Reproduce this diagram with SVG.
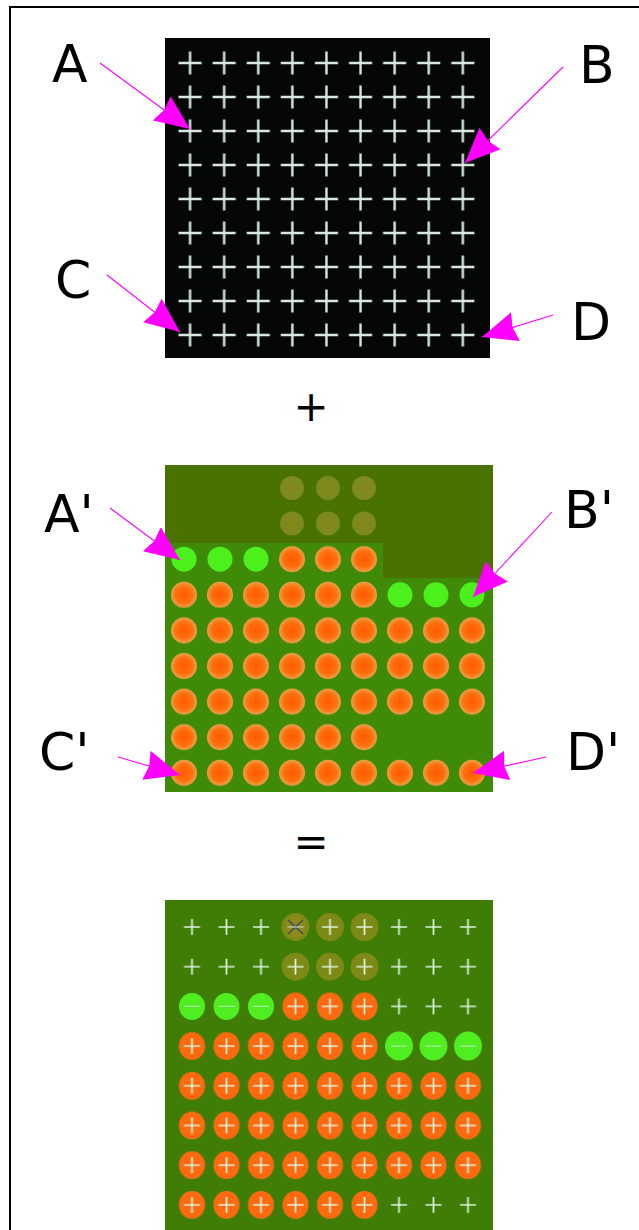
<svg xmlns="http://www.w3.org/2000/svg" xmlns:xlink="http://www.w3.org/1999/xlink" width="639" height="1230" viewBox="0 0 639 1230">
<style>
.lbl{font-family:"DejaVu Sans","Liberation Sans",sans-serif;font-size:52px;fill:#000}
.op{font-family:"DejaVu Sans","Liberation Sans",sans-serif;font-size:42px;fill:#000;text-anchor:middle}
.arr{stroke:#ff00ff;stroke-width:1.1;fill:none;marker-end:url(#head)}
.x1{stroke:#d6e8e0;stroke-width:2.4;fill:none}
.x3{stroke:#dcf4dc;stroke-width:1.7;fill:none}
</style>
<defs>
<marker id="head" viewBox="0 0 35 30" refX="35" refY="15" markerWidth="35" markerHeight="30" markerUnits="userSpaceOnUse" orient="auto">
<path d="M0,0 L35,15 L0,30 L3,15 Z" fill="#ff00ff"/>
</marker>
<radialGradient id="or">
<stop offset="0" stop-color="#ff5a00"/>
<stop offset="0.65" stop-color="#ff700e"/>
<stop offset="1" stop-color="#eaa44a"/>
</radialGradient>
<radialGradient id="ol">
<stop offset="0" stop-color="#86881a"/>
<stop offset="1" stop-color="#7a8a20"/>
</radialGradient>
<pattern id="p1" x="173" y="46" width="34.1" height="34" patternUnits="userSpaceOnUse">
<path class="x1" d="M5.5,17H28.6M17.05,5.5V28.5"/>
</pattern>
<pattern id="p2" x="166" y="470.2" width="36" height="35.6" patternUnits="userSpaceOnUse">
<circle cx="18" cy="17.8" r="13" fill="url(#or)"/>
</pattern>
<pattern id="p3o" x="174.75" y="907.15" width="34.5" height="39.7" patternUnits="userSpaceOnUse">
<ellipse cx="17.25" cy="19.85" rx="13" ry="14" fill="#ff6a10"/>
</pattern>
<pattern id="p3x" x="174.75" y="907.15" width="34.5" height="39.7" patternUnits="userSpaceOnUse">
<path class="x3" d="M9.25,19.85H25.25M17.25,11.85V27.85"/>
</pattern>
</defs>
<rect width="639" height="1230" fill="#fff"/>
<rect x="10" y="7" width="660" height="1260" fill="none" stroke="#000" stroke-width="2"/>

<g id="panel-top">
<rect x="165" y="38" width="325" height="320" fill="#050606"/>
<rect x="173" y="46" width="306.9" height="306" fill="url(#p1)"/>
</g>

<g id="plus"><text class="op" x="311" y="421">+</text></g>

<g id="panel-mid">
<rect x="165" y="465" width="328" height="327" fill="#4a7200"/>
<path d="M165,543H383V578H493V792H165Z" fill="#3f8a06"/>
<g fill="url(#ol)">
<circle cx="292" cy="488" r="12"/><circle cx="328" cy="488" r="12"/><circle cx="364" cy="488" r="12"/>
<circle cx="292" cy="523.6" r="12"/><circle cx="328" cy="523.6" r="12"/><circle cx="364" cy="523.6" r="12"/>
</g>
<g fill="#4cf01c">
<circle cx="184" cy="559.2" r="12.5"/><circle cx="220" cy="559.2" r="12.5"/><circle cx="256" cy="559.2" r="12.5"/>
<circle cx="400" cy="594.8" r="12.5"/><circle cx="436" cy="594.8" r="12.5"/><circle cx="472" cy="594.8" r="12.5"/>
</g>
<g fill="url(#p2)">
<rect x="274" y="541.4" width="108" height="35.6"/>
<rect x="166" y="577" width="216" height="35.6"/>
<rect x="166" y="612.6" width="324" height="106.8"/>
<rect x="166" y="719.4" width="216" height="35.6"/>
<rect x="166" y="755" width="324" height="35.6"/>
</g>
</g>

<g id="equals"><text class="op" x="311" y="856">=</text></g>

<g id="panel-bottom">
<rect x="165" y="900" width="328" height="330" fill="#3f7d06"/>
<g fill="#7e8a16">
<circle cx="295.5" cy="927" r="14"/><circle cx="330" cy="927" r="14"/><circle cx="364.5" cy="927" r="14"/>
<circle cx="295.5" cy="966.7" r="14"/><circle cx="330" cy="966.7" r="14"/><circle cx="364.5" cy="966.7" r="14"/>
</g>
<g fill="url(#p3o)">
<rect x="278.25" y="986.55" width="103.5" height="39.7"/>
<rect x="174.75" y="1026.25" width="207" height="39.7"/>
<rect x="174.75" y="1065.95" width="310.5" height="119.1"/>
<rect x="174.75" y="1185.05" width="207" height="39.7"/>
</g>
<rect x="174.75" y="907.15" width="310.5" height="317.6" fill="url(#p3x)"/>
<circle cx="295.5" cy="927" r="11" fill="#8a8c1a"/>
<path d="M288,920L303,934M303,920L288,934" stroke="#404a60" stroke-width="1.6"/>
<path d="M287.5,927H303.5" stroke="#c0d0c0" stroke-width="1.2"/>
<g fill="#50ee20">
<ellipse cx="192" cy="1006.4" rx="13" ry="13.5"/><ellipse cx="226.5" cy="1006.4" rx="13" ry="13.5"/><ellipse cx="261" cy="1006.4" rx="13" ry="13.5"/>
<ellipse cx="399" cy="1046.1" rx="14" ry="14.5"/><ellipse cx="433.5" cy="1046.1" rx="14" ry="14.5"/><ellipse cx="468" cy="1046.1" rx="14" ry="14.5"/>
</g>
<path d="M184,1006.4H200M218.5,1006.4H234.5M253,1006.4H269M391,1046.1H407M425.5,1046.1H441.5M460,1046.1H476" stroke="#a8e8a0" stroke-width="1.4"/>
</g>

<g id="labels">
<text id="lA" class="lbl" x="52" y="82">A</text>
<text id="lB" class="lbl" x="579" y="83">B</text>
<text id="lC" class="lbl" x="55" y="298">C</text>
<text id="lD" class="lbl" x="571" y="340">D</text>
<text id="lA2" class="lbl" x="44" y="532">A'</text>
<text id="lB2" class="lbl" x="564" y="528">B'</text>
<text id="lC2" class="lbl" x="39" y="770">C'</text>
<text id="lD2" class="lbl" x="566" y="770">D'</text>
</g>

<g id="connectors">
<line class="arr" x1="100" y1="63" x2="190" y2="129"/>
<line class="arr" x1="563" y1="67" x2="465" y2="163"/>
<line class="arr" x1="107" y1="275" x2="180" y2="332"/>
<line class="arr" x1="553" y1="315" x2="482" y2="337"/>
<line class="arr" x1="110" y1="508" x2="180" y2="560"/>
<line class="arr" x1="552" y1="512" x2="473" y2="597"/>
<line class="arr" x1="118" y1="757" x2="180" y2="775"/>
<line class="arr" x1="546" y1="757" x2="473" y2="773"/>
</g>
</svg>
